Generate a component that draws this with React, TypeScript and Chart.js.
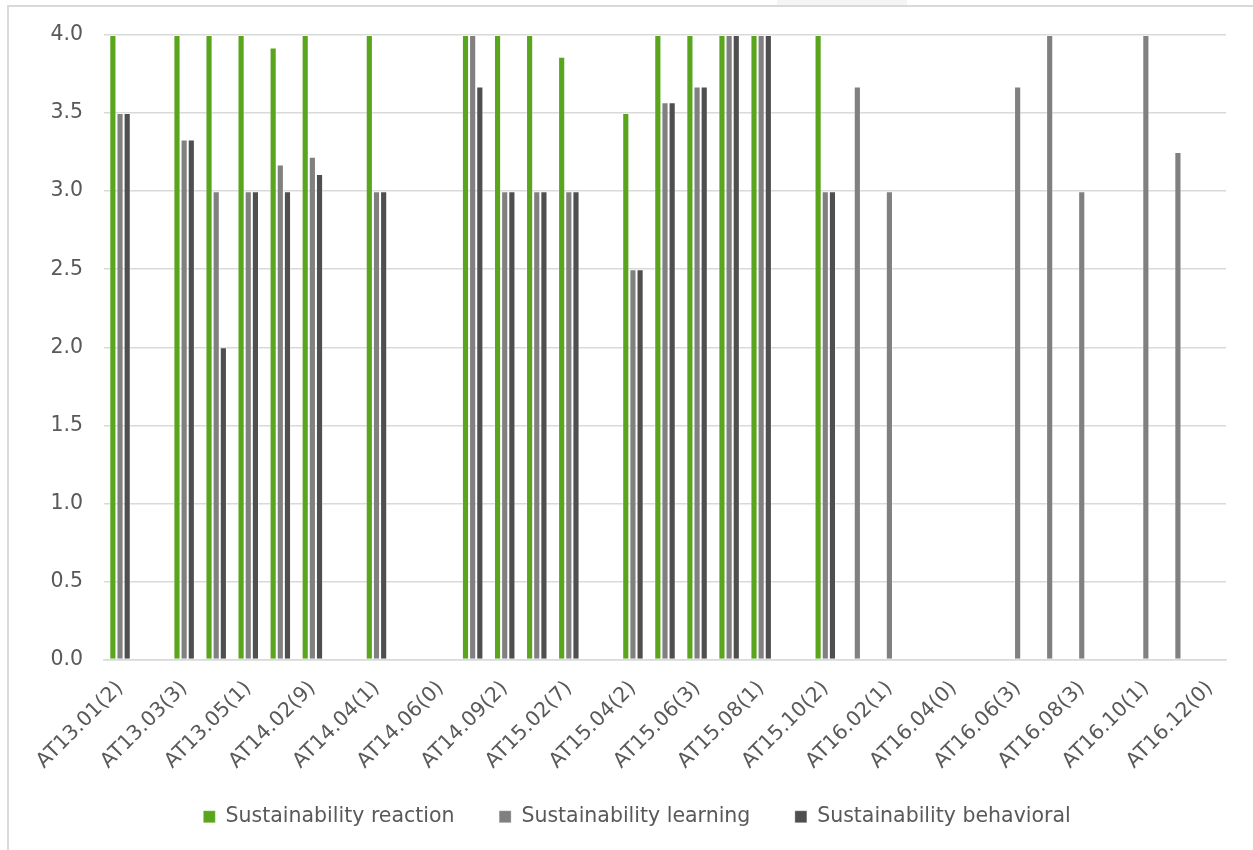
import React, { useEffect, useRef } from "react";
import { Chart, registerables } from "chart.js";

Chart.register(...registerables);

const categories: string[] = [
  "AT13.01(2)", "AT13.02(1)", "AT13.03(3)", "AT13.04(1)", "AT13.05(1)", "AT14.01(3)",
  "AT14.02(9)", "AT14.03(0)", "AT14.04(1)", "AT14.05(0)", "AT14.06(0)", "AT14.07(3)",
  "AT14.09(2)", "AT15.01(2)", "AT15.02(7)", "AT15.03(0)", "AT15.04(2)", "AT15.05(7)",
  "AT15.06(3)", "AT15.07(1)", "AT15.08(1)", "AT15.09(0)", "AT15.10(2)", "AT16.01(3)",
  "AT16.02(1)", "AT16.03(0)", "AT16.04(0)", "AT16.05(0)", "AT16.06(3)", "AT16.07(1)",
  "AT16.08(3)", "AT16.09(0)", "AT16.10(1)", "AT16.11(4)", "AT16.12(0)",
];

const reaction: (number | null)[] = [
  4, null, 4, 4, 4, 3.92,
  4, null, 4, null, null, 4,
  4, 4, 3.86, null, 3.5, 4,
  4, 4, 4, null, 4, null,
  null, null, null, null, null, null,
  null, null, null, null, null,
];

const learning: (number | null)[] = [
  3.5, null, 3.33, 3.0, 3.0, 3.17,
  3.22, null, 3.0, null, null, 4,
  3.0, 3.0, 3.0, null, 2.5, 3.57,
  3.67, 4, 4, null, 3.0, 3.67,
  3.0, null, null, null, 3.67, 4,
  3.0, null, 4, 3.25, null,
];

const behavioral: (number | null)[] = [
  3.5, null, 3.33, 2.0, 3.0, 3.0,
  3.11, null, 3.0, null, null, 3.67,
  3.0, 3.0, 3.0, null, 2.5, 3.57,
  3.67, 4, 4, null, 3.0, null,
  null, null, null, null, null, null,
  null, null, null, null, null,
];

const seriesNames = [
  "Sustainability reaction",
  "Sustainability learning",
  "Sustainability behavioral",
];

const FONT = { family: "'DejaVu Sans', sans-serif", size: 20.5 };
const TEXT = "#595959";
const GRID = "#d9d9d9";

export default function App() {
  const ref = useRef<HTMLCanvasElement | null>(null);

  useEffect(() => {
    if (!ref.current) return;
    const edge = "rgba(255,255,255,0.3)";
    const chart = new Chart(ref.current, {
      type: "bar",
      data: {
        labels: categories,
        datasets: [
          { label: seriesNames[0], data: reaction, backgroundColor: "#5aa51e", borderColor: edge, borderWidth: 1 },
          { label: seriesNames[1], data: learning, backgroundColor: "#808080", borderColor: edge, borderWidth: 1 },
          { label: seriesNames[2], data: behavioral, backgroundColor: "#4f4f4f", borderColor: edge, borderWidth: 1 },
        ],
      },
      options: {
        animation: false,
        responsive: false,
        devicePixelRatio: 1,
        datasets: { bar: { categoryPercentage: 0.67, barPercentage: 1 } },
        layout: { padding: { left: 48, right: 27, top: 35, bottom: 13 } },
        scales: {
          x: {
            grid: { display: false, drawTicks: false },
            border: { display: true, color: GRID, width: 1.5 },
            ticks: {
              autoSkip: false,
              minRotation: 45,
              maxRotation: 45,
              padding: 17,
              color: TEXT,
              font: FONT,
              callback: function (_v: any, i: number) {
                return i % 2 === 0 ? categories[i] : "";
              },
            },
            afterFit: (s: any) => {
              s.height = 122;
            },
          },
          y: {
            min: 0,
            max: 4,
            grid: { color: GRID, lineWidth: 1.5, drawTicks: false },
            border: { display: false },
            ticks: {
              stepSize: 0.5,
              padding: 21,
              color: TEXT,
              font: FONT,
              callback: (v: any) => Number(v).toFixed(1),
            },
            afterFit: (s: any) => {
              s.width = 56;
            },
          },
        },
        plugins: {
          tooltip: { enabled: false },
          legend: {
            position: "bottom",
            labels: {
              boxWidth: 12,
              boxHeight: 12,
              padding: 25,
              color: TEXT,
              font: FONT,
              generateLabels: (c: any) =>
                Chart.defaults.plugins.legend.labels
                  .generateLabels(c)
                  .map((l: any, i: number) => ({ ...l, text: i < 2 ? l.text + "   " : l.text })),
            },
          },
        },
      },
    });
    return () => chart.destroy();
  }, []);

  return (
    <div style={{ position: "absolute", left: 0, top: 0, width: 1253, height: 850, background: "#fff", overflow: "hidden" }}>
      <div style={{ position: "absolute", left: 777, top: 0, width: 130, height: 5, background: "#f5f5f5" }} />
      <div
        style={{
          position: "absolute",
          left: 7,
          top: 5,
          width: 1246,
          height: 845,
          borderLeft: "2px solid " + GRID,
          borderTop: "2px solid " + GRID,
          boxSizing: "border-box",
        }}
      />
      <canvas ref={ref} width={1253} height={850} style={{ position: "absolute", left: 0, top: 0, display: "block" }} />
    </div>
  );
}
